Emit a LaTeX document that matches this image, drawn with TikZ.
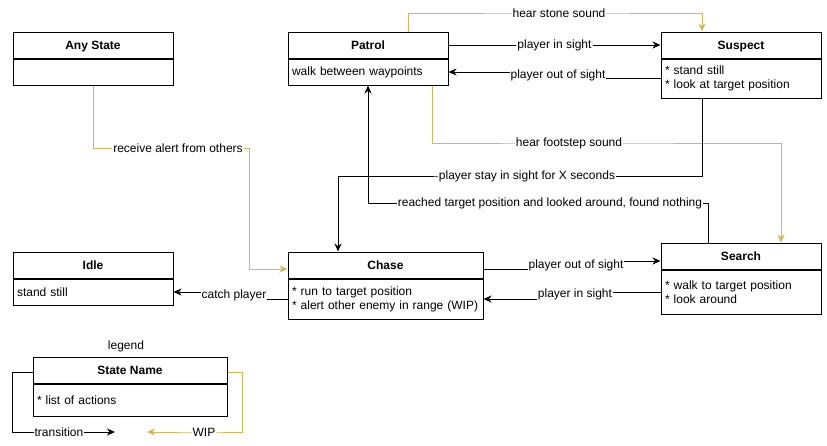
\documentclass[tikz,border=0pt]{standalone}
\usepackage{fontspec}
\setmainfont{Liberation Sans}
\usetikzlibrary{positioning,arrows.meta}
\tikzset{>={Stealth[length=8pt, width=7pt, inset=2.5pt]}}
\definecolor{wipyellow}{HTML}{D6B656}

\tikzset{
  statehead/.style={draw, line width=1pt, minimum width=160pt, minimum height=26pt,
    inner sep=0pt, text height=10pt, text depth=1pt, font=\fontsize{12}{14}\selectfont\bfseries},
  statebody/.style={draw, line width=1pt, minimum height=26pt, inner xsep=4pt,
    inner ysep=0pt, align=left, font=\fontsize{12}{14}\selectfont},
  lbl/.style={fill=white, inner sep=1pt, font=\fontsize{12}{14}\selectfont},
  trans/.style={->, line width=1pt},
  wip/.style={->, line width=1pt, draw=wipyellow},
}

\begin{document}
\begin{tikzpicture}[x=1pt, y=-1pt]
    \useasboundingbox (0,0) rectangle (827,445);
    % states
    \node[statehead] (any) at (93,45) {Any State};
    \node[statebody, text width=152pt, below=0pt of any] (anybody) {};
    \node[statehead] (patrol) at (368,45) {Patrol};
    \node[statebody, text width=152pt, below=0pt of patrol] (patrolbody) {walk between waypoints};
    \node[statehead] (suspect) at (741,45) {Suspect};
    \node[statebody, text width=152pt, minimum height=39pt, below=0pt of suspect] (suspectbody)
      {* stand still\\\relax* look at target position};
    \node[statehead] (idle) at (93,265) {Idle};
    \node[statebody, text width=152pt, below=0pt of idle] (idlebody) {stand still};
    \node[statehead, minimum width=195pt] (chase) at (385.5,265) {Chase};
    \node[statebody, text width=187pt, minimum height=40pt, below=0pt of chase] (chasebody)
      {* run to target position\\\relax* alert other enemy in range (WIP)};
    \node[statehead] (search) at (741,256) {Search};
    \node[statebody, text width=152pt, minimum height=44pt, below=0pt of search] (searchbody)
      {* walk to target position\\\relax* look around};

    % transitions
    \draw[trans] (patrol.east) -- node[lbl] {player in sight} (suspect.west);
    \draw[trans] (suspectbody.west) -| (558,75) node[lbl] {player out of sight} |- (patrolbody.east);
    \draw[wip] ([xshift=40pt]patrol.north) |- (559,13) node[lbl] {hear stone sound}
      -| ([xshift=-39pt]suspect.north);
    \draw[wip] ([xshift=64pt]patrolbody.south) |- (569,143) node[lbl] {hear footstep sound}
      -| ([xshift=40pt]search.north);
    \draw[trans] ([xshift=-39pt]suspectbody.south) |- (527,176) node[lbl] {player stay in sight for X seconds}
      -| ([xshift=-47.5pt]chase.north);
    \draw[trans] ([xshift=-33pt]search.north) |- (550,203)
      node[lbl] {reached target position and looked around, found nothing} -| (patrolbody.south);
    \draw[wip] (anybody.south) |- (178,148) node[lbl] {receive alert from others}
      -| (249,269) -- ([yshift=-4pt]chase.west);
    \draw[trans] (chasebody.west) -| (234,295) node[lbl] {catch player} |- (idlebody.east);
    \draw[trans] ([yshift=-4pt]chase.east) -| (576,265) node[lbl] {player out of sight}
      |- ([yshift=-5pt]search.west);
    \draw[trans] (searchbody.west) -| (575,294) node[lbl] {player in sight} |- (chasebody.east);

    % legend
    \node[lbl] (legendtitle) at (126,346) {legend};
    \node[statehead, minimum width=194pt] (legend) at (130,370) {State Name};
    \node[statebody, text width=186pt, minimum height=32pt, below=0pt of legend] (legendbody)
      {* list of actions};
    \coordinate (transend) at (115,432);
    \coordinate (wipend) at (147,432);
    \draw[trans] ([yshift=-2pt]legend.west) -| (12,432) -- (59,432) node[lbl] {transition} -- (transend);
    \draw[wip] ([yshift=-2pt]legend.east) -| (242,432) -- (204,432) node[lbl] {WIP} -- (wipend);
\end{tikzpicture}
\end{document}
